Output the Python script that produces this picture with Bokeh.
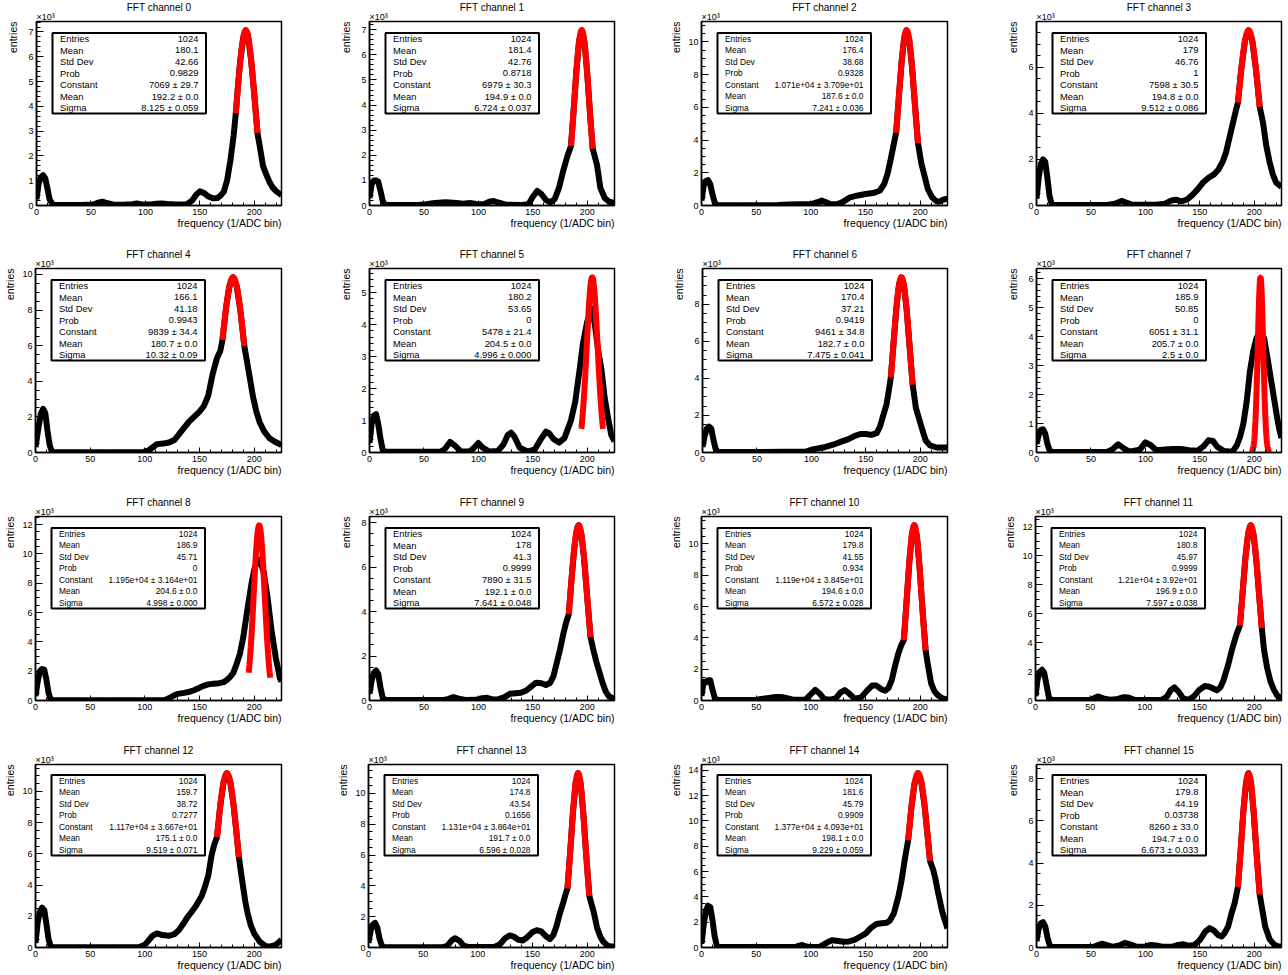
import numpy as np
from bokeh.plotting import figure
from bokeh.layouts import row, column
from bokeh.models import Range1d, Label, BoxAnnotation, SingleIntervalTicker, Title
from bokeh.embed import file_html
from bokeh.resources import INLINE

# ---------------- data (y in units of 10^3 entries) ----------------
ch0_pts = [(0,0.25),(2,0.9),(4,1.15),(6,1.22),(8,1.1),(10,0.7),(12,0.25),(15,0.03),(25,0.02),(40,0.02),(52,0.04),(57,0.12),(61,0.15),(65,0.1),(70,0.04),(80,0.03),(88,0.05),(92,0.08),(97,0.04),(105,0.04),(110,0.07),(115,0.08),(120,0.06),(128,0.04),(138,0.05),(143,0.2),(147,0.45),(150,0.57),(154,0.5),(158,0.36),(162,0.29),(166,0.3),(169,0.4),(172,0.55),(175,1.0),(178,1.8),(181,2.8),(183,3.7),(185,4.8),(187,5.8),(190,6.8),(192.2,7.07),(194,6.9),(197,5.9),(200,4.5),(203,2.9),(205,2.4),(208,1.6),(211,1.25),(214,0.95),(217,0.72),(220,0.58),(225,0.42)]
ch1_pts = [(0,0.3),(2,0.85),(4,1.0),(6,1.0),(8,0.95),(10,0.6),(12,0.2),(14,0.03),(25,0.02),(45,0.02),(52,0.05),(60,0.1),(70,0.13),(80,0.1),(86,0.07),(92,0.1),(98,0.06),(105,0.05),(110,0.15),(114,0.18),(118,0.12),(125,0.03),(140,0.02),(146,0.05),(150,0.35),(154,0.58),(158,0.45),(162,0.22),(166,0.12),(170,0.25),(174,0.7),(178,1.4),(182,2.0),(185,2.36),(187.5,3.8),(190,5.35),(192.5,6.55),(195,6.98),(197.5,6.48),(200,5.23),(202.5,3.68),(205,2.26),(209,1.6),(212,0.7),(216,0.3),(220,0.15),(225,0.1)]
ch2_pts = [(0,0.3),(2,1.2),(4,1.5),(6,1.55),(8,1.3),(10,0.7),(12,0.2),(14,0.03),(30,0.02),(60,0.02),(70,0.03),(80,0.06),(90,0.08),(100,0.07),(106,0.2),(110,0.3),(114,0.2),(118,0.08),(124,0.08),(130,0.25),(136,0.5),(142,0.6),(150,0.7),(157,0.76),(163,0.9),(167,1.3),(170,1.9),(173,2.8),(176,3.8),(178,4.45),(180.5,6.6),(183,8.75),(185.5,10.27),(187.6,10.71),(190,10.14),(192.5,8.5),(195,6.35),(198,3.82),(201,2.6),(204,1.8),(207,1.0),(211,0.5),(215,0.25),(218,0.25),(221,0.35),(225,0.42)]
ch3_pts = [(0,0.3),(2,1.2),(4,1.8),(6,2.0),(8,1.9),(10,1.2),(12,0.4),(14,0.05),(16,0.02),(65,0.02),(72,0.08),(78,0.2),(83,0.12),(88,0.03),(110,0.03),(118,0.08),(124,0.22),(128,0.25),(133,0.18),(138,0.25),(143,0.45),(148,0.7),(153,1.0),(158,1.2),(163,1.35),(167,1.55),(171,1.9),(174,2.3),(177,2.9),(180,3.5),(183,4.1),(185,4.47),(188,5.88),(191.5,7.16),(194.8,7.6),(198,7.18),(201.5,5.93),(205,4.28),(208,3.6),(211,2.6),(214,1.9),(217,1.35),(220,1.0),(225,0.8)]
ch4_pts = [(0,0.3),(3,1.5),(5,2.2),(7,2.45),(9,2.2),(11,1.2),(13,0.4),(15,0.05),(17,0.02),(99,0.03),(103,0.1),(107,0.28),(111,0.47),(117,0.5),(122,0.56),(127,0.7),(131,1.0),(136,1.4),(140,1.7),(145,2.0),(150,2.3),(154,2.6),(158,3.2),(162,4.4),(166,5.3),(169,5.7),(171,6.32),(174.5,8.22),(177.5,9.38),(180.7,9.84),(184,9.35),(187.5,7.92),(191,5.98),(194,4.9),(196,4.2),(199,3.1),(202,2.3),(205,1.7),(209,1.2),(214,0.8),(219,0.6),(225,0.42)]
ch5_pts = [(0,0.3),(2,0.9),(4,1.15),(6,1.2),(8,0.9),(10,0.45),(12,0.1),(14,0.02),(65,0.02),(69,0.1),(74,0.33),(79,0.2),(84,0.03),(92,0.03),(96,0.15),(100,0.3),(104,0.15),(110,0.03),(118,0.05),(123,0.25),(127,0.55),(130,0.62),(133,0.5),(138,0.15),(145,0.03),(152,0.1),(157,0.4),(162,0.65),(165,0.6),(169,0.42),(174,0.31),(179,0.45),(185,1.0),(189,1.6),(193,2.6),(196,3.4),(200,4.1),(204,4.5),(207,4.0),(210,3.2),(213,2.6),(216,1.7),(219,1.1),(222,0.55),(225,0.35)]
ch6_pts = [(0,0.3),(2,0.9),(4,1.3),(6,1.4),(8,1.3),(10,0.7),(12,0.2),(14,0.03),(50,0.03),(95,0.05),(100,0.15),(106,0.22),(113,0.3),(120,0.42),(128,0.6),(134,0.72),(140,0.9),(145,1.0),(150,1.0),(155,0.95),(160,1.05),(163,1.4),(166,2.0),(169,2.6),(171,3.3),(173,4.08),(175.5,5.95),(178,7.76),(180.5,9.06),(182.7,9.46),(185,9.02),(187.5,7.7),(190,5.87),(193,3.66),(196,2.4),(199,1.8),(202,1.2),(205,0.65),(209,0.38),(215,0.27),(225,0.27)]
ch7_pts = [(0,0.3),(2,0.6),(4,0.78),(6,0.8),(8,0.65),(10,0.3),(12,0.08),(14,0.02),(65,0.02),(70,0.12),(75,0.28),(80,0.15),(85,0.03),(95,0.1),(100,0.35),(105,0.25),(110,0.08),(118,0.1),(125,0.12),(133,0.12),(140,0.08),(148,0.06),(153,0.2),(158,0.42),(162,0.4),(166,0.2),(172,0.05),(180,0.03),(184,0.25),(187,0.55),(190,1.0),(193,1.75),(196,2.8),(199,3.5),(202,3.95),(205.5,4.2),(209,3.95),(212,3.3),(215,2.6),(218,1.9),(221,1.2),(223,0.8),(225,0.5)]
ch8_pts = [(0,0.3),(2,1.3),(4,2.0),(6,2.15),(8,2.1),(10,1.4),(12,0.5),(14,0.05),(16,0.02),(118,0.02),(122,0.15),(126,0.32),(130,0.45),(136,0.52),(141,0.6),(145,0.7),(149,0.84),(153,0.98),(158,1.1),(163,1.15),(168,1.18),(172,1.25),(175,1.4),(178,1.6),(181,1.9),(184,2.5),(187,3.2),(190,4.3),(193.6,6.1),(197.4,7.9),(200,8.9),(203,9.6),(205,9.6),(208.6,8.8),(212.3,7.0),(216,4.7),(219.8,2.9),(223.6,1.5),(225,1.3)]
ch9_pts = [(0,0.3),(2,0.9),(4,1.25),(6,1.35),(8,1.2),(10,0.6),(12,0.15),(14,0.02),(68,0.02),(72,0.06),(77,0.15),(82,0.08),(88,0.02),(98,0.03),(103,0.1),(108,0.12),(113,0.05),(118,0.05),(124,0.15),(129,0.3),(134,0.33),(139,0.35),(144,0.45),(149,0.65),(153,0.8),(158,0.78),(162,0.7),(166,0.8),(169,1.1),(172,1.7),(175,2.3),(178,3.0),(180.5,3.5),(183,3.88),(185.5,5.43),(188,6.83),(190.5,7.72),(192.1,7.89),(194.5,7.51),(197,6.42),(200,4.62),(203,2.85),(205,2.4),(208,1.8),(211,1.3),(214,0.8),(217,0.4),(220,0.18),(225,0.08)]
ch10_pts = [(0,0.3),(2,1.2),(4,1.15),(6,1.3),(8,1.3),(10,0.7),(12,0.2),(14,0.03),(45,0.03),(50,0.05),(55,0.1),(60,0.15),(65,0.2),(70,0.22),(75,0.2),(80,0.12),(85,0.04),(95,0.04),(100,0.4),(104,0.68),(108,0.45),(112,0.1),(118,0.05),(123,0.15),(127,0.5),(131,0.66),(135,0.45),(140,0.12),(146,0.2),(151,0.6),(156,0.95),(160,0.95),(165,0.7),(168,0.62),(171,0.8),(174,1.3),(177,2.2),(180,3.0),(182.5,3.5),(185,3.85),(187.5,6.24),(190,8.76),(192.5,10.63),(194.6,11.19),(197,10.47),(199.5,8.47),(202,5.94),(205,3.2),(207,2.3),(210,1.1),(213,0.6),(216,0.35),(220,0.15),(225,0.05)]
ch11_pts = [(0,0.3),(2,1.5),(4,2.0),(6,2.12),(8,1.9),(10,1.1),(12,0.3),(14,0.04),(48,0.03),(52,0.1),(57,0.28),(62,0.15),(68,0.05),(74,0.08),(80,0.22),(85,0.2),(90,0.06),(98,0.03),(115,0.03),(120,0.25),(124,0.75),(127,0.9),(131,0.6),(135,0.15),(140,0.05),(145,0.3),(150,0.75),(155,1.0),(159,0.95),(162,0.85),(166,0.7),(169,0.9),(172,1.4),(176,2.4),(180,3.6),(184,4.6),(187,5.18),(189.5,7.53),(192,9.83),(194.5,11.51),(196.9,12.1),(199.5,11.41),(202,9.66),(204.5,7.34),(207,5.0),(209,3.5),(212,2.2),(215,1.3),(218,0.75),(221,0.35),(225,0.12)]
ch12_pts = [(0,0.3),(2,1.6),(4,2.3),(6,2.55),(8,2.4),(10,1.5),(12,0.5),(14,0.05),(16,0.02),(95,0.03),(100,0.17),(104,0.5),(107,0.75),(111,0.9),(116,0.8),(122,0.75),(127,0.85),(131,1.1),(135,1.5),(139,1.95),(143,2.3),(147,2.7),(152,3.3),(155,3.9),(158,4.6),(161,5.9),(163.5,6.6),(166,7.07),(169,9.1),(172,10.6),(175.1,11.17),(178,10.67),(181,9.22),(183.5,7.57),(186,5.8),(189,4.3),(192,2.9),(194,2.2),(197,1.4),(200,0.9),(205,0.38),(210,0.1),(214,0.05),(219,0.15),(222,0.3),(225,0.5)]
ch13_pts = [(0,0.3),(2,1.1),(4,1.5),(6,1.6),(8,1.3),(10,0.6),(12,0.15),(14,0.02),(68,0.02),(72,0.1),(76,0.45),(79,0.6),(83,0.45),(87,0.12),(92,0.03),(115,0.03),(120,0.2),(125,0.6),(129,0.78),(133,0.7),(137,0.5),(141,0.45),(145,0.65),(150,1.0),(154,1.12),(158,1.05),(162,0.75),(166,0.55),(169,0.8),(172,1.4),(175,2.2),(178,2.9),(180,3.4),(182,3.84),(184.5,6.23),(187,8.77),(189.5,10.7),(191.7,11.31),(194,10.64),(196.5,8.68),(199,6.13),(202,3.34),(204,2.8),(206,2.3),(209,1.3),(212,0.7),(215,0.35),(219,0.1),(225,0.05)]
ch14_pts = [(0,0.3),(2,1.8),(4,2.9),(6,3.3),(8,3.2),(10,2.2),(12,0.9),(14,0.15),(16,0.03),(85,0.03),(88,0.1),(92,0.2),(96,0.08),(100,0.03),(108,0.05),(112,0.25),(116,0.45),(120,0.58),(125,0.52),(130,0.45),(135,0.48),(140,0.6),(145,0.85),(150,1.1),(155,1.55),(160,1.85),(165,1.92),(169,1.95),(172,2.1),(176,2.7),(180,4.0),(183,5.3),(186,7.0),(189,8.47),(192,11.07),(195,13.02),(198.1,13.77),(201,13.11),(204,11.22),(206.5,9.1),(209,6.86),(212,6.1),(214,5.4),(216,4.5),(218,3.7),(220,2.9),(222,2.3),(225,1.5)]
ch15_pts = [(0,0.3),(2,0.9),(4,1.15),(6,1.2),(8,1.0),(10,0.5),(12,0.12),(14,0.02),(52,0.02),(56,0.1),(60,0.18),(64,0.12),(70,0.03),(76,0.1),(81,0.22),(86,0.15),(92,0.03),(100,0.05),(105,0.12),(110,0.1),(116,0.03),(125,0.04),(130,0.12),(135,0.15),(140,0.08),(145,0.12),(150,0.35),(155,0.75),(159,0.92),(163,0.8),(167,0.58),(170,0.52),(173,0.7),(176,1.0),(179,1.6),(182,2.1),(185,2.87),(187.5,4.62),(190,6.45),(192.5,7.82),(194.7,8.26),(197,7.78),(199.5,6.38),(202,4.54),(205,2.51),(207,1.9),(210,1.0),(214,0.4),(218,0.15),(222,0.05),(225,0.05)]

all_pts = [ch0_pts, ch1_pts, ch2_pts, ch3_pts, ch4_pts, ch5_pts, ch6_pts, ch7_pts,
           ch8_pts, ch9_pts, ch10_pts, ch11_pts, ch12_pts, ch13_pts, ch14_pts, ch15_pts]

# stats box contents
stat_entries = ["1024"] * 16
stat_mean = ["180.1", "181.4", "176.4", "179", "166.1", "180.2", "170.4", "185.9",
             "186.9", "178", "179.8", "180.8", "159.7", "174.8", "181.6", "179.8"]
stat_std = ["42.66", "42.76", "38.68", "46.76", "41.18", "53.65", "37.21", "50.85",
            "45.71", "41.3", "41.55", "45.97", "38.72", "43.54", "45.79", "44.19"]
stat_prob = ["0.9829", "0.8718", "0.9328", "1", "0.9943", "0", "0.9419", "0",
             "0", "0.9999", "0.934", "0.9999", "0.7277", "0.1656", "0.9909", "0.03738"]
const_txt = ["7069 ± 29.7", "6979 ± 30.3", "1.071e+04 ± 3.709e+01", "7598 ± 30.5",
             "9839 ± 34.4", "5478 ± 21.4", "9461 ± 34.8", "6051 ± 31.1",
             "1.195e+04 ± 3.164e+01", "7890 ± 31.5", "1.119e+04 ± 3.845e+01", "1.21e+04 ± 3.92e+01",
             "1.117e+04 ± 3.667e+01", "1.131e+04 ± 3.864e+01", "1.377e+04 ± 4.093e+01", "8260 ± 33.0"]
fmean_txt = ["192.2 ± 0.0", "194.9 ± 0.0", "187.6 ± 0.0", "194.8 ± 0.0", "180.7 ± 0.0", "204.5 ± 0.0",
             "182.7 ± 0.0", "205.7 ± 0.0", "204.6 ± 0.0", "192.1 ± 0.0", "194.6 ± 0.0", "196.9 ± 0.0",
             "175.1 ± 0.0", "191.7 ± 0.0", "198.1 ± 0.0", "194.7 ± 0.0"]
fsigma_txt = ["8.125 ± 0.059", "6.724 ± 0.037", "7.241 ± 0.036", "9.512 ± 0.086", "10.32 ± 0.09",
              "4.996 ± 0.000", "7.475 ± 0.041", "2.5 ± 0.0", "4.998 ± 0.000", "7.641 ± 0.048",
              "6.572 ± 0.028", "7.597 ± 0.038", "9.519 ± 0.071", "6.596 ± 0.028", "9.229 ± 0.059",
              "6.673 ± 0.033"]

# gaussian fit parameters and fit ranges
fit_const = [7069, 6979, 10710, 7598, 9839, 5478, 9461, 6051, 11950, 7890, 11190, 12100, 11170, 11310, 13770, 8260]
fit_mean = [192.2, 194.9, 187.6, 194.8, 180.7, 204.5, 182.7, 205.7, 204.6, 192.1, 194.6, 196.9, 175.1, 191.7, 198.1, 194.7]
fit_sigma = [8.125, 6.724, 7.241, 9.512, 10.32, 4.996, 7.475, 2.5, 4.998, 7.641, 6.572, 7.597, 9.519, 6.596, 9.229, 6.673]
fit_lo = [183, 185, 178, 185, 171, 194.5, 173, 195.7, 195, 183, 185, 187, 166, 182, 189, 185]
fit_hi = [203, 205, 198, 205, 191, 214.5, 193, 215.7, 214.7, 203, 205, 207, 186, 202, 209, 205]

y_step = [1, 1, 2, 2, 2, 1, 2, 1, 2, 2, 2, 2, 2, 2, 2, 2]

stat_names = ["Entries", "Mean", "Std Dev", "Prob", "Constant", "Mean", "Sigma"]

# ---------------- layout / style ----------------
FONT = "Liberation Sans"
FW, FH = 247, 184
BL, BT = 34, 21
col_w = [333, 333, 334, 286]
row_h = [247, 248, 248, 228]


def add_label(p, x, y, text, size, align="left", baseline="middle"):
    p.add_layout(Label(x=x, y=y, x_units="screen", y_units="screen", text=text,
                       text_font=FONT, text_font_size=size, text_color="black",
                       text_align=align, text_baseline=baseline))


def side_title(text, size, align, valign, standoff):
    return Title(text=text, align=align, vertical_align=valign, standoff=standoff, offset=0,
                 text_font=FONT, text_font_size=size, text_font_style="normal",
                 text_color="black")


def make_panel(i, w, h):
    xs = [pt[0] for pt in all_pts[i]]
    ys = [pt[1] for pt in all_pts[i]]
    ymax = 1.05 * max(max(ys), fit_const[i] / 1000.0)
    p = figure(width=w, height=h, x_range=Range1d(0, 225), y_range=Range1d(0, ymax),
               output_backend="svg", toolbar_location=None, tools="",
               min_border_left=BL, min_border_right=w - BL - FW,
               min_border_top=BT, min_border_bottom=h - BT - FH)
    p.background_fill_color = "white"
    p.border_fill_color = "white"
    p.outline_line_color = "black"
    p.outline_line_width = 1.5
    p.grid.visible = False

    p.xaxis.ticker = SingleIntervalTicker(interval=50, num_minor_ticks=5)
    p.yaxis.ticker = SingleIntervalTicker(interval=y_step[i], num_minor_ticks=5 if y_step[i] == 1 else 4)
    for ax in (p.xaxis[0], p.yaxis[0]):
        ax.axis_line_color = "black"
        ax.axis_line_width = 1.5
        ax.major_tick_line_color = "black"
        ax.minor_tick_line_color = "black"
        ax.major_tick_out = 0
        ax.minor_tick_out = 0
        ax.major_label_text_font = FONT
        ax.major_label_text_font_size = "9px"
        ax.major_label_text_color = "black"
        ax.major_label_standoff = 3
    p.xaxis.major_tick_in = 5
    p.xaxis.minor_tick_in = 3
    p.yaxis.major_tick_in = 7
    p.yaxis.minor_tick_in = 4

    # histogram (black) and gaussian fit (red)
    p.line(xs, ys, line_color="black", line_width=6, line_join="round")
    fx = np.linspace(fit_lo[i], fit_hi[i], 150)
    fy = fit_const[i] / 1000.0 * np.exp(-0.5 * ((fx - fit_mean[i]) / fit_sigma[i]) ** 2)
    p.line(fx, fy, line_color="#ff0000", line_width=6)

    # texts outside the frame (side panels, nearest first)
    p.add_layout(side_title("×10³", "9px", "left", "bottom", 0), "above")
    p.add_layout(side_title(f"FFT channel {i}", "10px", "center", "bottom", -6), "above")
    ent_standoff = 5 if ymax >= 10 else 11
    p.add_layout(side_title("entries", "10.5px", "right", "middle", ent_standoff), "left")
    p.add_layout(side_title("frequency (1/ADC bin)", "10.5px", "right", "top", -2), "below")

    # stats box
    bx0, bx1 = 16, 169.5
    by_top, by_bot = FH - 11.5, FH - 92
    p.add_layout(BoxAnnotation(left=bx0, right=bx1, top=by_top, bottom=by_bot,
                               left_units="screen", right_units="screen",
                               top_units="screen", bottom_units="screen",
                               fill_color="white", fill_alpha=1.0,
                               line_color="black", line_width=2, line_alpha=1.0))
    vals = [stat_entries[i], stat_mean[i], stat_std[i], stat_prob[i],
            const_txt[i], fmean_txt[i], fsigma_txt[i]]
    fs = "8.4px" if "e+" in const_txt[i] else "9.4px"
    step = (by_top - by_bot) / 7.0
    for k in range(7):
        yk = by_top - (k + 0.5) * step
        add_label(p, bx0 + 7.5, yk, stat_names[k], fs, align="left")
        add_label(p, bx1 - 7.5, yk, vals[k], fs, align="right")
    return p


rows = []
for r in range(4):
    figs = [make_panel(r * 4 + c, col_w[c], row_h[r]) for c in range(4)]
    rows.append(row(*figs))

layout = column(*rows)

open("out.html", "w").write(file_html(layout, INLINE))
